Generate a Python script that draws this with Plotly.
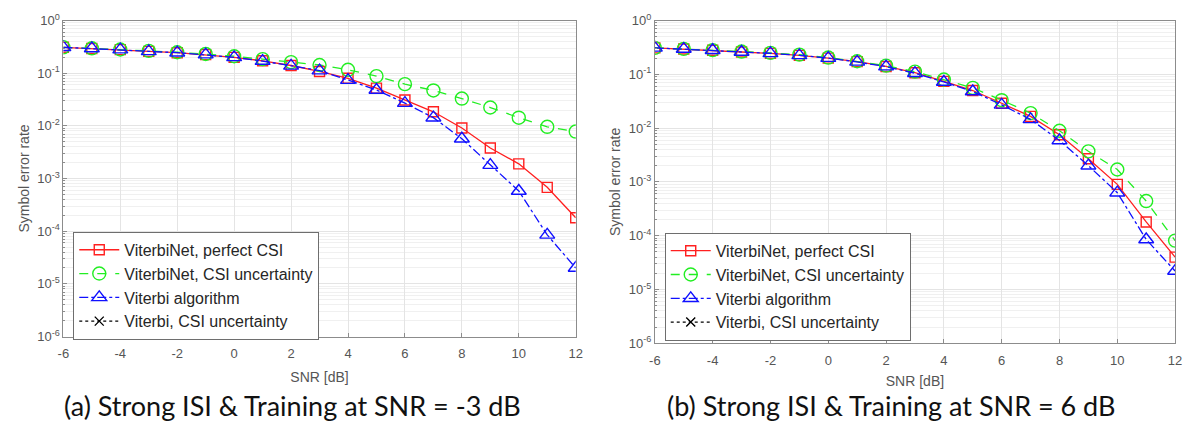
import plotly.graph_objects as go

snr = [-6, -5, -4, -3, -2, -1, 0, 1, 2, 3, 4, 5, 6, 7, 8, 9, 10, 11, 12]

# (a) Strong ISI, training at SNR = -3 dB
a_perfect = [0.31, 0.295, 0.28, 0.26, 0.245, 0.225, 0.2, 0.172, 0.14, 0.108, 0.08, 0.052,
             0.031, 0.0185, 0.0091, 0.0038, 0.0019, 0.00068, 0.00018]
a_uncert = [0.31, 0.297, 0.282, 0.265, 0.25, 0.232, 0.21, 0.185, 0.162, 0.143, 0.116, 0.088,
            0.062, 0.047, 0.033, 0.0223, 0.0143, 0.0096, 0.0078]
a_viterbi = [0.31, 0.295, 0.28, 0.26, 0.245, 0.225, 0.2, 0.17, 0.138, 0.112, 0.074, 0.048,
             0.027, 0.0143, 0.0057, 0.0018, 0.00058, 0.000085, 0.00002]
a_vit_unc = [None] * 19

# (b) Strong ISI, training at SNR = 6 dB
b_perfect = [0.31, 0.295, 0.28, 0.26, 0.245, 0.225, 0.2, 0.172, 0.14, 0.107, 0.074, 0.05,
             0.029, 0.0165, 0.0075, 0.0027, 0.0009, 0.00018, 0.00004]
b_uncert = [0.31, 0.297, 0.282, 0.265, 0.25, 0.232, 0.205, 0.175, 0.145, 0.112, 0.08, 0.056,
            0.033, 0.019, 0.0089, 0.0037, 0.0017, 0.00044, 0.000081]
b_viterbi = [0.31, 0.295, 0.28, 0.26, 0.245, 0.225, 0.2, 0.17, 0.139, 0.105, 0.072, 0.048,
             0.027, 0.0145, 0.0059, 0.002, 0.00063, 0.000085, 0.000022]
b_vit_unc = [None] * 19

xtickvals = [-6, -4, -2, 0, 2, 4, 6, 8, 10, 12]
xticktext = ["-6", "-4", "-2", "0", "2", "4", "6", "8", "10", "12"]

names = ["ViterbiNet, perfect CSI", "ViterbiNet, CSI uncertainty",
         "Viterbi algorithm", "Viterbi, CSI uncertainty"]
colors = ["#ff2020", "#22ee22", "#1010ff", "#000000"]
dashes = ["solid", "dash", "dashdot", "dot"]
symbols = ["square-open", "circle-open", "triangle-up-open", "x-thin"]
msizes = [10, 13, 13, 9]

ytickvals = [10 ** k for k in range(-6, 1)]
yticktext = ["10<sup>%d</sup>" % k for k in range(-6, 1)]
minor_vals = [m * 10 ** k for k in range(-6, 0) for m in range(2, 10)]

fig = go.Figure()

panels = [
    (dict(x="x", y="y", legend="legend"), [a_perfect, a_uncert, a_viterbi, a_vit_unc]),
    (dict(x="x2", y="y2", legend="legend2"), [b_perfect, b_uncert, b_viterbi, b_vit_unc]),
]
for ax, series in panels:
    for i, ys in enumerate(series):
        fig.add_trace(go.Scatter(
            x=snr, y=ys, name=names[i], mode="lines+markers",
            xaxis=ax["x"], yaxis=ax["y"], legend=ax["legend"],
            line=dict(color=colors[i], width=1.3, dash=dashes[i]),
            marker=dict(symbol=symbols[i], size=msizes[i], color=colors[i],
                        line=dict(color=colors[i], width=1.4)),
        ))

font_family = "Liberation Sans, Arial"
tickfont = dict(family=font_family, size=13, color="#555555")
titlefont = dict(family=font_family, size=14, color="#555555")
axis_common = dict(
    showline=True, linecolor="#8c8c8c", linewidth=1, mirror=True,
    ticks="inside", ticklen=4, tickcolor="#8c8c8c",
    showgrid=True, gridcolor="#e4e4e4", gridwidth=1,
    zeroline=False, tickfont=tickfont,
)

def xaxis(domain, anchor, standoff):
    return dict(axis_common, domain=domain, anchor=anchor, range=[-6, 12],
                tickvals=xtickvals, ticktext=xticktext, ticklabelstandoff=5,
                title=dict(text="SNR [dB]", font=titlefont, standoff=standoff))

def yaxis(domain, anchor):
    return dict(axis_common, domain=domain, anchor=anchor, type="log", range=[-6, 0],
                tickvals=ytickvals, ticktext=yticktext,
                minor=dict(tickvals=minor_vals, showgrid=True, gridcolor="#f0f0f0",
                           ticks="inside", ticklen=2, tickcolor="#8c8c8c"),
                title=dict(text="Symbol error rate", font=titlefont, standoff=4))

legend_common = dict(
    bgcolor="white", bordercolor="#6e6e6e", borderwidth=1,
    font=dict(family=font_family, size=16, color="#262626"),
    xanchor="left", yanchor="top", tracegroupgap=0, itemwidth=40,
)

caption_font = dict(family="Lato", size=27, color="#111111")

fig.update_layout(
    width=1191, height=430,
    margin=dict(l=0, r=0, t=0, b=0),
    paper_bgcolor="white", plot_bgcolor="white",
    xaxis=xaxis([58 / 1191, 576 / 1191], "y", 12),
    yaxis=yaxis([1 - 341 / 430, 1 - 12 / 430], "x"),
    xaxis2=xaxis([656 / 1191, 1182 / 1191], "y2", 9),
    yaxis2=yaxis([1 - 348 / 430, 1 - 12 / 430], "x2"),
    legend=dict(legend_common, x=68 / 1191, y=1 - 232 / 430),
    legend2=dict(legend_common, x=666 / 1191, y=1 - 233 / 430),
    annotations=[
        dict(text="(a) Strong ISI &amp; Training at SNR = -3 dB", x=290 / 1191, y=1 - 413 / 430,
             xref="paper", yref="paper", showarrow=False, xanchor="center", yanchor="middle",
             font=caption_font),
        dict(text="(b) Strong ISI &amp; Training at SNR = 6 dB", x=895 / 1191, y=1 - 413 / 430,
             xref="paper", yref="paper", showarrow=False, xanchor="center", yanchor="middle",
             font=caption_font),
    ],
)

fig.write_html("out.html")
